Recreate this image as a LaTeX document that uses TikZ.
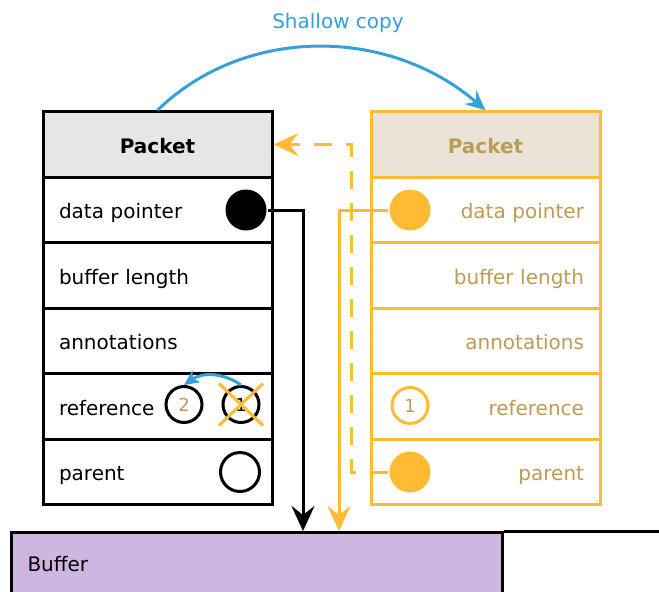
\documentclass[tikz,border=0pt]{standalone}
\usepackage{fontspec}
\setmainfont{DejaVu Sans}
\usetikzlibrary{arrows.meta,calc}
\definecolor{copyblue}{HTML}{34A0DC}
\definecolor{ptrorange}{HTML}{FFBB33}
\definecolor{labeltan}{HTML}{BD9B56}
\definecolor{headgray}{HTML}{E6E6E6}
\definecolor{headtan}{HTML}{EBE3D7}
\definecolor{bufpurple}{HTML}{CFB6E1}
\tikzset{
  cell/.style={draw, minimum width=229pt, minimum height=65.5pt, inner sep=0pt, text width=197pt,
               text height=18pt, text depth=1pt},
  lcell/.style={cell, align=left},
  rcell/.style={cell, draw=ptrorange, text=labeltan, align=right},
  headfont/.style={font=\fontsize{20}{24}\selectfont\bfseries},
  dot/.style={circle, inner sep=0pt, minimum size=41pt},
  refcount/.style={circle, draw, fill=white, inner sep=0pt, minimum size=36pt, font=\fontsize{18}{20}\selectfont},
  bigtip/.style={-{Stealth[length=25pt,width=23pt,inset=9pt]}},
  ptrline/.style={bigtip},
  backref/.style={draw=ptrorange, dash pattern=on 18pt off 14pt, bigtip},
  copyarc/.style={draw=copyblue, -{Stealth[length=20pt,width=18pt,inset=7pt]}},
  refmove/.style={draw=copyblue, -{Stealth[length=15pt,width=14pt,inset=4pt]}}
}
\begin{document}
\begin{tikzpicture}[x=1pt, y=-1pt, line width=3pt, font=\fontsize{20}{24}\selectfont]
\useasboundingbox (0,0) rectangle (659,592);
\clip (0,0) rectangle (659,592);

% original packet
\node[lcell, fill=headgray, align=center, headfont] (LHead) at (157.5,144.5) {Packet};
\node[lcell] (LData) at (157.5,210) {data pointer};
\node[lcell] (LLen)  at (157.5,275.5) {buffer length};
\node[lcell] (LAnn)  at (157.5,341) {annotations};
\node[lcell] (LRef)  at (157.5,406.5) {reference};
\node[lcell] (LPar)  at (157.5,472) {parent};

% copied packet
\node[rcell, fill=headtan, align=center, headfont] (RHead) at (485.5,144.5) {Packet};
\node[rcell] (RData) at (485.5,210) {data pointer};
\node[rcell] (RLen)  at (485.5,275.5) {buffer length};
\node[rcell] (RAnn)  at (485.5,341) {annotations};
\node[rcell] (RRef)  at (485.5,406.5) {reference};
\node[rcell] (RPar)  at (485.5,472) {parent};

% buffer
\node[draw, fill=bufpurple, minimum width=491pt, minimum height=63pt, anchor=north west,
      inner sep=0pt, text width=459pt, align=left] (Buf) at (10,531) {Buffer};
\coordinate (edge) at (670,531);
\draw (Buf.north east) -- (edge);

% slots
\node[dot, fill=black] (LDp) at (246,210) {};
\node[refcount, text=labeltan] (LTwo) at (184,404.5) {2};
\node[refcount] (LOne) at (241,404.5) {1};
\node[circle, draw, fill=white, inner sep=0pt, minimum size=39pt] (LPp) at (240,472) {};
\node[dot, fill=ptrorange] (RDp) at (410,210) {};
\node[refcount, draw=ptrorange, text=labeltan] (ROne) at (410,405.5) {1};
\node[dot, fill=ptrorange] (RPp) at (410,472) {};

% crossed-out count
\draw[ptrorange, line width=3pt] ($(LOne)+(-22,-21)$) -- ($(LOne)+(22,21)$);
\draw[ptrorange, line width=3pt] ($(LOne)+(22,-21)$) -- ($(LOne)+(-22,21)$);
\draw[refmove] (LOne.north) to[bend right=35] (LTwo.north);

% pointers into the buffer
\coordinate (bufL) at (303,531);
\coordinate (bufR) at (339,531);
\draw[ptrline] (LDp) -| (bufL);
\draw[ptrline, ptrorange] (RDp) -| (bufR);

% parent link back to the original
\coordinate (bend) at (351,144.5);
\draw[backref] (RPp) -| (bend) -- (LHead.east);

% shallow copy
\draw[copyarc] (LHead.north) .. controls (244,26) and (388,26) .. (RHead.north);
\node[text=copyblue] (cap) at (338,23) {Shallow copy};
\end{tikzpicture}
\end{document}
